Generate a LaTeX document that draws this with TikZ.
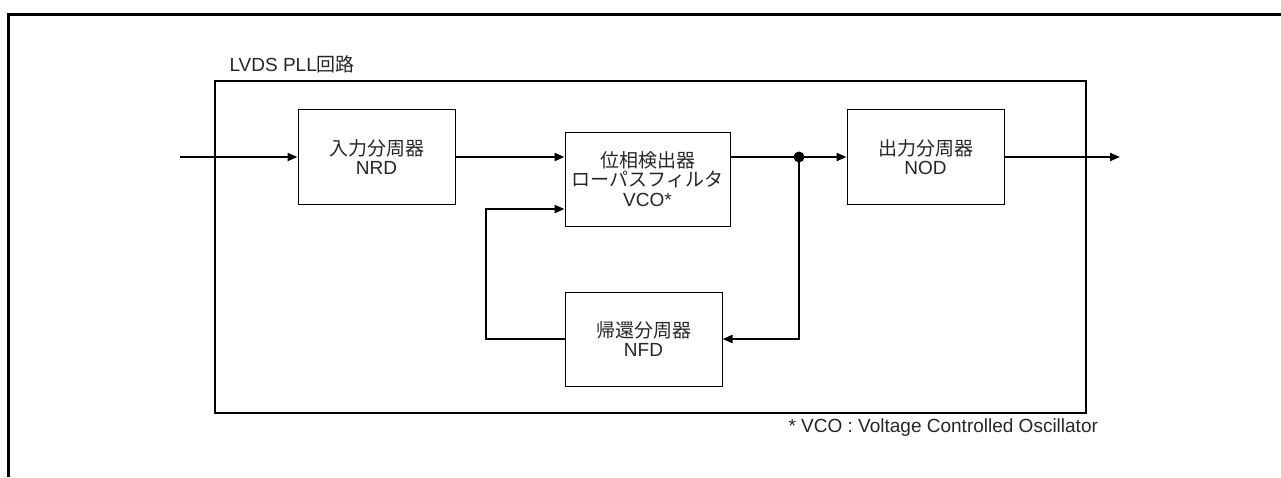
\documentclass[tikz,border=0pt]{standalone}
\usepackage{fontspec}
\setmainfont{Liberation Sans}
\newfontfamily\cjk{Noto Sans CJK JP}
\usetikzlibrary{arrows.meta,positioning}

\begin{document}
\begin{tikzpicture}[x=1pt,y=-1pt,>={Triangle[length=10pt,width=8pt]},
 font=\fontsize{19}{19.5}\selectfont,text=black!85,
 blk/.style={draw,line width=1pt,minimum width=157pt,minimum height=95pt,align=center,inner sep=0pt},
 conn/.style={line width=2pt}]
\useasboundingbox (0,0) rectangle (1281,477);
% outer frame and PLL block
\draw[line width=3pt] (8.5,477) -- (8.5,14) -- (1281,14);
\draw[line width=2.7pt] (215,81) rectangle (1086,413);
\node[anchor=west] (title) at (226,64) {LVDS PLL\cjk{回路}};
% blocks
\node[blk] (nrd) at (376.5,157) {\cjk{入力分周器}\\NRD};
\node[blk,minimum width=165pt,minimum height=94pt] (pd) at (647.5,179)
 {\cjk{位相検出器}\\\cjk{ローパスフィルタ}\\VCO*};
\node[blk] (nod) at (925.5,157) {\cjk{出力分周器}\\NOD};
\node[blk,minimum height=94pt] (nfd) at (643.5,339) {\cjk{帰還分周器}\\NFD};
\coordinate (in) at (180,157);
\coordinate (out) at (1120,157);
\coordinate (split) at (799,157);
\coordinate (fb) at (486,209);
% connectors
\draw[conn,->] (in) -- (nrd.west);
\draw[conn,->] (nrd.east) -- (nrd -| pd.west);
\draw[conn] (split -| pd.east) -- (split);
\draw[conn,->] (split) -- (nod.west);
\draw[conn,->] (nod.east) -- (out);
\draw[conn,->] (split) |- (nfd.east);
\draw[conn,->] (nfd.west) -| (fb) -- (fb -| pd.west);
\fill (split) circle (5.5);
% footnote
\node[anchor=west] (note) at (785,428) {* VCO : Voltage Controlled Oscillator};
\end{tikzpicture}
\end{document}
